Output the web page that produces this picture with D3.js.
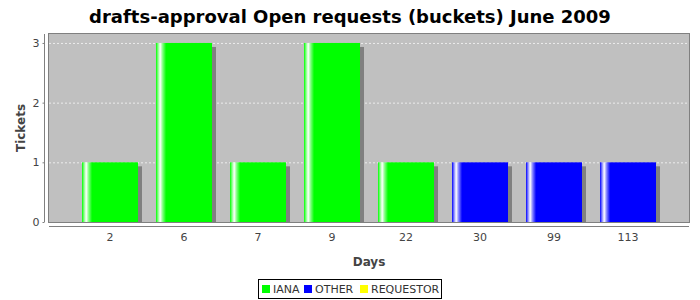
<!DOCTYPE html>
<html>
<head>
<meta charset="utf-8">
<script src="https://cdn.jsdelivr.net/npm/d3@7"></script>
<style>
body { margin: 0; background: #fff; }
text { font-family: "DejaVu Sans", sans-serif; }
</style>
</head>
<body>
<script>
// chart data
var days = ["2", "6", "7", "9", "22", "30", "99", "113"];
var tickets = [1, 3, 1, 3, 1, 1, 1, 1];
var owner = ["IANA", "IANA", "IANA", "IANA", "IANA", "OTHER", "OTHER", "OTHER"];
var legendNames = ["IANA", "OTHER", "REQUESTOR"];
var legendColors = ["#00ff00", "#0000ff", "#ffff00"];
var yTicks = [0, 1, 2, 3];

var w = 700, h = 300;
var plot = {left: 49, top: 34, right: 689, bottom: 222};

var svg = d3.select("body").append("svg").attr("width", w).attr("height", h);

var color = d3.scaleOrdinal().domain(legendNames).range(legendColors);

var x = d3.scaleBand().domain(days).range([73, 665])
  .paddingInner(0.2432).paddingOuter(0.1216);
var y = d3.scaleLinear().domain([0, 3.15]).range([plot.bottom, plot.top]);

// gradients for the bar highlight stripe
var defs = svg.append("defs");
legendColors.forEach(function(c, i) {
  var g = defs.append("linearGradient").attr("id", "grad" + i)
    .attr("x1", "0").attr("x2", "1").attr("y1", "0").attr("y2", "0");
  var light = d3.interpolateRgb(c, "#fff");
  g.append("stop").attr("offset", "0").attr("stop-color", c);
  g.append("stop").attr("offset", "0.035").attr("stop-color", light(0.5));
  g.append("stop").attr("offset", "0.075").attr("stop-color", "#fff");
  g.append("stop").attr("offset", "0.12").attr("stop-color", light(0.5));
  g.append("stop").attr("offset", "0.18").attr("stop-color", c);
  g.append("stop").attr("offset", "1").attr("stop-color", c);
});
defs.append("clipPath").attr("id", "clip").append("rect")
  .attr("x", plot.left).attr("y", plot.top)
  .attr("width", plot.right - plot.left).attr("height", plot.bottom - plot.top);

// plot background
svg.append("rect").attr("x", plot.left).attr("y", plot.top)
  .attr("width", plot.right - plot.left).attr("height", plot.bottom - plot.top)
  .attr("fill", "#c0c0c0");

// gridlines
svg.selectAll("line.grid").data(yTicks.slice(1)).enter().append("line")
  .attr("class", "grid")
  .attr("x1", plot.left).attr("x2", plot.right)
  .attr("y1", function(d) { return y(d) + 0.5; })
  .attr("y2", function(d) { return y(d) + 0.5; })
  .attr("stroke", "#ececec").attr("stroke-width", 1)
  .attr("stroke-dasharray", "2,2");

var bars = svg.append("g").attr("clip-path", "url(#clip)");
var data = days.map(function(d, i) { return {day: d, v: tickets[i], s: owner[i]}; });

// shadows
bars.selectAll("rect.shadow").data(data).enter().append("rect")
  .attr("class", "shadow")
  .attr("x", function(d) { return x(d.day) + 4; })
  .attr("y", function(d) { return y(d.v) + 4; })
  .attr("width", x.bandwidth())
  .attr("height", function(d) { return y(0) - y(d.v); })
  .attr("fill", "#808080");

bars.selectAll("rect.bar").data(data).enter().append("rect")
  .attr("class", "bar")
  .attr("x", function(d) { return x(d.day); })
  .attr("y", function(d) { return y(d.v); })
  .attr("width", x.bandwidth())
  .attr("height", function(d) { return y(0) - y(d.v); })
  .attr("fill", function(d) { return "url(#grad" + legendNames.indexOf(d.s) + ")"; });

// plot outline
svg.append("rect").attr("x", plot.left - 0.5).attr("y", plot.top - 0.5)
  .attr("width", plot.right - plot.left + 1).attr("height", plot.bottom - plot.top + 1)
  .attr("fill", "none").attr("stroke", "#808080");

// y axis
var yAxis = svg.append("g").attr("transform", "translate(" + (plot.left - 4.5) + ",0)")
  .call(d3.axisLeft(y).tickValues(yTicks).tickFormat(d3.format("d")).tickSize(2).tickPadding(3));
yAxis.select(".domain").attr("stroke", "#808080").attr("d", "M0," + plot.top + "V" + plot.bottom);
yAxis.selectAll(".tick line").attr("stroke", "#808080");
yAxis.selectAll("text").attr("fill", "#444").style("font-size", "11px");

// x axis
var xAxis = svg.append("g").attr("transform", "translate(0," + (plot.bottom + 4.5) + ")")
  .call(d3.axisBottom(x).tickSize(0).tickPadding(7));
xAxis.select(".domain").attr("stroke", "#808080").attr("d", "M" + plot.left + ",0H" + plot.right);
xAxis.selectAll("text").attr("fill", "#444").style("font-size", "11px");

// axis labels
svg.append("text").attr("x", (plot.left + plot.right) / 2).attr("y", 266)
  .attr("text-anchor", "middle").attr("fill", "#444")
  .style("font-size", "12px").style("font-weight", "bold").text("Days");
svg.append("text").attr("transform", "translate(25," + ((plot.top + plot.bottom) / 2) + ") rotate(-90)")
  .attr("text-anchor", "middle").attr("fill", "#444")
  .style("font-size", "12px").style("font-weight", "bold").text("Tickets");

// title
svg.append("text").attr("x", 350).attr("y", 23).attr("text-anchor", "middle")
  .attr("fill", "#000").style("font-size", "18px").style("font-weight", "bold")
  .text("drafts-approval Open requests (buckets) June 2009");

// legend
var legend = svg.append("g");
legend.append("rect").attr("x", 258.5).attr("y", 279.5).attr("width", 183).attr("height", 19)
  .attr("fill", "#fff").attr("stroke", "#000");
var lx = [262, 304, 360];
var items = legend.selectAll("g.item").data(legendNames).enter().append("g")
  .attr("transform", function(d, i) { return "translate(" + lx[i] + ",0)"; });
items.append("rect").attr("x", 0).attr("y", 285).attr("width", 8).attr("height", 8)
  .attr("fill", function(d) { return color(d); });
items.append("text").attr("x", 11).attr("y", 293).attr("fill", "#333")
  .style("font-size", "11px").text(function(d) { return d; });
</script>
</body>
</html>
